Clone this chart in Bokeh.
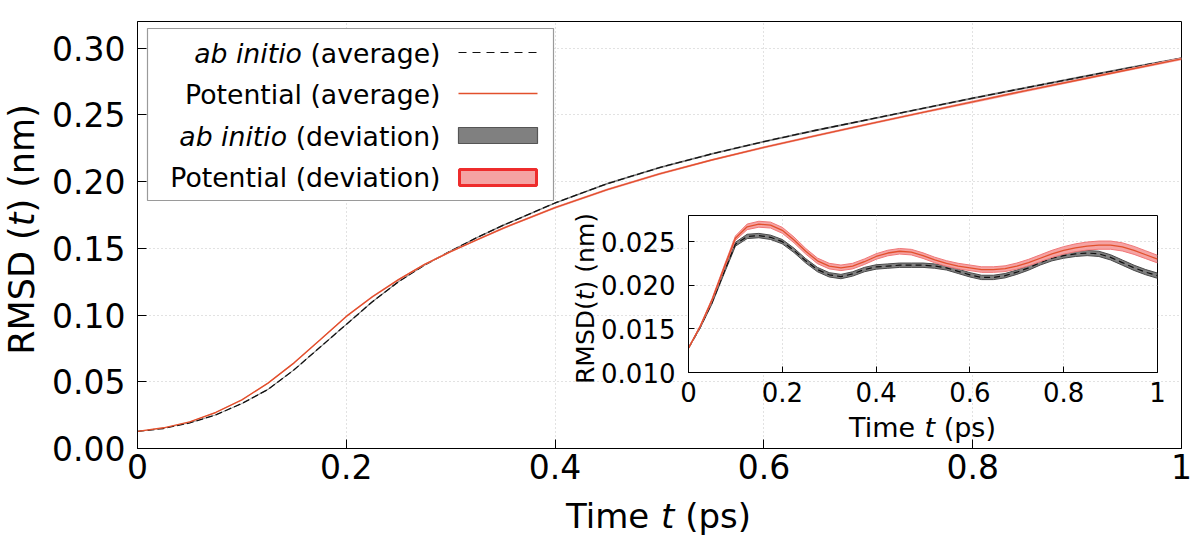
from bokeh.plotting import figure
from bokeh.models import FixedTicker, PrintfTickFormatter, Label, GridBox
from bokeh.embed import file_html
from bokeh.resources import INLINE

FONT = "DejaVu Sans"

# ---------------- data ----------------
# long-time RMSD (nm) versus time (ps)
t_main = [0.0, 0.025, 0.05, 0.075, 0.1, 0.125, 0.15, 0.175, 0.2, 0.225, 0.25, 0.275,
          0.3, 0.325, 0.35, 0.4, 0.45, 0.5, 0.55, 0.6, 0.65, 0.7, 0.75, 0.8, 0.85, 0.9, 0.95, 1.0]
ai_main = [0.0128, 0.0150, 0.0192, 0.0252, 0.0337, 0.0443, 0.0590, 0.0760, 0.0930, 0.1100,
           0.1250, 0.1375, 0.1480, 0.1580, 0.1672, 0.1840, 0.1985, 0.2105, 0.2208, 0.2300,
           0.2385, 0.2465, 0.2545, 0.2625, 0.2702, 0.2778, 0.2852, 0.2925]
ai_main_dev = [0.0001, 0.0001, 0.0002, 0.0002, 0.0003, 0.0004, 0.0004, 0.0005, 0.0005, 0.0005,
               0.0005, 0.0005, 0.0005, 0.0005, 0.0006, 0.0006, 0.0006, 0.0006, 0.0006, 0.0007,
               0.0007, 0.0007, 0.0007, 0.0007, 0.0008, 0.0008, 0.0008, 0.0008]
pot_main = [0.0128, 0.0155, 0.0200, 0.0270, 0.0365, 0.0490, 0.0642, 0.0815, 0.0990, 0.1137,
            0.1265, 0.1380, 0.1475, 0.1563, 0.1650, 0.1805, 0.1940, 0.2058, 0.2162, 0.2257,
            0.2345, 0.2431, 0.2515, 0.2598, 0.2680, 0.2760, 0.2840, 0.2920]
pot_main_dev = [0.0001, 0.0001, 0.0002, 0.0003, 0.0004, 0.0005, 0.0006, 0.0006, 0.0007, 0.0007,
                0.0007, 0.0007, 0.0007, 0.0007, 0.0008, 0.0008, 0.0008, 0.0008, 0.0008, 0.0009,
                0.0009, 0.0009, 0.0009, 0.0010, 0.0010, 0.0010, 0.0010, 0.0010]

# short-time RMSD (nm) for the inset
t_inset = [0.0, 0.025, 0.05, 0.075, 0.1, 0.125, 0.15, 0.175, 0.2, 0.225,
           0.25, 0.275, 0.3, 0.325, 0.35, 0.375, 0.4, 0.425, 0.45, 0.475,
           0.5, 0.525, 0.55, 0.575, 0.6, 0.625, 0.65, 0.675, 0.7, 0.725,
           0.75, 0.775, 0.8, 0.825, 0.85, 0.875, 0.9, 0.925, 0.95, 0.975, 1.0]
ai_inset = [0.0128, 0.0152, 0.0180, 0.0214, 0.0247, 0.0256, 0.0257, 0.0255, 0.0250, 0.0240,
            0.0228, 0.0218, 0.0212, 0.0210, 0.0213, 0.0218, 0.0221, 0.0222, 0.0223, 0.0223,
            0.0223, 0.0222, 0.0220, 0.0216, 0.0212, 0.0209, 0.0209, 0.0211, 0.0215, 0.0220,
            0.0226, 0.0231, 0.0234, 0.0236, 0.0237, 0.0236, 0.0232, 0.0226, 0.0220, 0.0215,
            0.0211]
ai_inset_dev = [0.00005, 0.0001, 0.00015, 0.0002, 0.00022, 0.00025, 0.00025, 0.00025, 0.00025, 0.00025,
                0.00025, 0.00025, 0.00025, 0.00025, 0.00025, 0.00025, 0.00025, 0.00025, 0.00025, 0.00025,
                0.00025, 0.00025, 0.00025, 0.00025, 0.00025, 0.00025, 0.00025, 0.00025, 0.00025, 0.00027,
                0.00028, 0.0003, 0.0003, 0.0003, 0.0003, 0.0003, 0.0003, 0.0003, 0.0003, 0.0003,
                0.0003]
pot_inset = [0.0128, 0.0153, 0.0183, 0.0219, 0.0254, 0.0267, 0.0270, 0.0269, 0.0263, 0.0252,
             0.0239, 0.0228, 0.0222, 0.0220, 0.0222, 0.0227, 0.0233, 0.0237, 0.0239, 0.0238,
             0.0234, 0.0229, 0.0225, 0.0222, 0.0220, 0.0218, 0.0218, 0.0219, 0.0222, 0.0226,
             0.0231, 0.0236, 0.0240, 0.0243, 0.0245, 0.0246, 0.0246, 0.0244, 0.0240, 0.0235,
             0.0230]
pot_inset_dev = [0.00005, 0.0001, 0.00015, 0.0002, 0.00025, 0.00032, 0.00034, 0.00034, 0.00034, 0.00033,
                 0.00032, 0.00032, 0.00032, 0.00032, 0.00032, 0.00032, 0.00032, 0.00032, 0.00032, 0.00032,
                 0.00032, 0.00032, 0.00032, 0.00032, 0.00032, 0.00032, 0.00032, 0.00033, 0.00035, 0.00037,
                 0.00039, 0.00041, 0.00043, 0.00045, 0.00046, 0.00047, 0.00047, 0.00047, 0.00046, 0.00045,
                 0.00044]

main_xticks = [0.0, 0.2, 0.4, 0.6, 0.8, 1.0]
main_yticks = [0.0, 0.05, 0.10, 0.15, 0.20, 0.25, 0.30]
inset_xticks = [0.0, 0.2, 0.4, 0.6, 0.8, 1.0]
inset_yticks = [0.010, 0.015, 0.020, 0.025]

legend_rows = [("ab initio", "(average)"), ("", "Potential (average)"),
               ("ab initio", "(deviation)"), ("", "Potential (deviation)")]

# ---------------- styling ----------------
POT = "#e2502c"
POT_FILL = "#f5a3a3"
POT_EDGE = "#f07878"
POT_BORDER = "#ee2c2c"
AI = "#111111"
AI_FILL = "#808080"
AI_EDGE = "#4a4a4a"
GRID = "#c4c4c4"

# DejaVu Sans advance widths (em) used to lay out mixed upright/italic text
EM = {" ": 0.318, "(": 0.390, ")": 0.390, ".": 0.318, "R": 0.695, "M": 0.863, "S": 0.635,
      "D": 0.770, "P": 0.603, "T": 0.611, "a": 0.613, "b": 0.635, "d": 0.635, "e": 0.615,
      "g": 0.635, "i": 0.278, "l": 0.278, "m": 0.974, "n": 0.634, "o": 0.612, "p": 0.635,
      "r": 0.411, "s": 0.521, "t": 0.392, "v": 0.592}
BASE_FIX = 0.36  # Label baseline correction, in em


def text_width(s, size):
    return sum(EM.get(c, 0.6) for c in s) * size


def sub(vals, devs, sign):
    return [v + sign * d for v, d in zip(vals, devs)]


def style_axes(fig, xticks, yticks, xfmt, yfmt, size, xstand, ystand):
    fig.xaxis.ticker = FixedTicker(ticks=xticks)
    fig.yaxis.ticker = FixedTicker(ticks=yticks)
    fig.xaxis.formatter = PrintfTickFormatter(format=xfmt)
    fig.yaxis.formatter = PrintfTickFormatter(format=yfmt)
    for ax in (fig.xaxis[0], fig.yaxis[0]):
        ax.major_label_text_font = FONT
        ax.major_label_text_font_size = size
        ax.major_label_text_color = "black"
        ax.axis_line_color = "black"
        ax.major_tick_line_color = "black"
        ax.major_tick_in = 9
        ax.major_tick_out = 0
        ax.minor_tick_line_color = None
    fig.xaxis.major_label_standoff = xstand
    fig.yaxis.major_label_standoff = ystand
    for g in (fig.xgrid[0], fig.ygrid[0]):
        g.grid_line_color = GRID
        g.grid_line_dash = "1 3"
        g.grid_line_width = 1
    fig.outline_line_color = "black"
    fig.outline_line_alpha = 1.0


# ---------------- main panel ----------------
p = figure(width=1200, height=540, x_range=(0, 1), y_range=(0, 0.32),
           output_backend="svg", toolbar_location=None,
           min_border_left=137, min_border_right=19, min_border_top=21, min_border_bottom=92)
style_axes(p, main_xticks, main_yticks, "%g", "%.2f", "33px", 5, 12)

p.varea(x=t_main, y1=sub(ai_main, ai_main_dev, -1), y2=sub(ai_main, ai_main_dev, 1),
        fill_color=AI_FILL)
p.line(t_main, ai_main, line_color=AI, line_width=1.3, line_dash="7 3")
p.varea(x=t_main, y1=sub(pot_main, pot_main_dev, -1), y2=sub(pot_main, pot_main_dev, 1),
        fill_color=POT_FILL)
p.line(t_main, pot_main, line_color=POT, line_width=1.4)

# ---------------- inset ----------------
IX0, IY0 = 560, 205            # inset canvas origin on the page
q = figure(width=615, height=240, x_range=(0, 1), y_range=(0.010, 0.028),
           output_backend="svg", toolbar_location=None,
           min_border_left=128, min_border_right=18, min_border_top=10, min_border_bottom=73)
q.border_fill_alpha = 0.0
q.background_fill_color = "white"
style_axes(q, inset_xticks, inset_yticks, "%g", "%.3f", "26px", 9, 13)
q.xaxis.major_tick_in = 6
q.yaxis.major_tick_in = 6

q.varea(x=t_inset, y1=sub(ai_inset, ai_inset_dev, -1), y2=sub(ai_inset, ai_inset_dev, 1),
        fill_color=AI_FILL)
q.line(t_inset, sub(ai_inset, ai_inset_dev, -1), line_color=AI_EDGE, line_width=1)
q.line(t_inset, sub(ai_inset, ai_inset_dev, 1), line_color=AI_EDGE, line_width=1)
q.line(t_inset, ai_inset, line_color=AI, line_width=1.2, line_dash="6 4")
q.varea(x=t_inset, y1=sub(pot_inset, pot_inset_dev, -1), y2=sub(pot_inset, pot_inset_dev, 1),
        fill_color=POT_FILL)
q.line(t_inset, sub(pot_inset, pot_inset_dev, -1), line_color=POT_EDGE, line_width=1)
q.line(t_inset, sub(pot_inset, pot_inset_dev, 1), line_color=POT_EDGE, line_width=1)
q.line(t_inset, pot_inset, line_color=POT, line_width=1.3)

# ---------------- text & legend layer (page pixel coordinates) ----------------
o = figure(width=1200, height=540, x_range=(0, 1200), y_range=(540, 0),
           x_axis_type=None, y_axis_type=None, output_backend="svg", toolbar_location=None,
           min_border=0, min_border_left=0, min_border_right=0, min_border_top=0,
           min_border_bottom=0)
o.outline_line_color = None
o.background_fill_alpha = 0.0
o.border_fill_alpha = 0.0
o.grid.visible = False


def olabel(x, y, text, size, italic=False, align="left", angle=0.0):
    o.add_layout(Label(x=x, y=y, text=text, text_font=FONT, text_font_size=f"{size}px",
                       text_font_style="italic" if italic else "normal",
                       text_align=align, text_baseline="alphabetic",
                       text_color="black", angle=angle))


def pieces_h(cx, base, parts, size):
    """Horizontal mixed-style text centred at x=cx with its baseline at y=base."""
    total = sum(text_width(s, size) for s, _ in parts)
    x = cx - total / 2
    for s, it in parts:
        if s.strip():
            olabel(x, base - BASE_FIX * size, s, size, italic=it)
        x += text_width(s, size)


def pieces_v(base, cy, parts, size):
    """Vertical (bottom-to-top) mixed-style text centred at y=cy with its baseline at x=base."""
    total = sum(text_width(s, size) for s, _ in parts)
    y = cy + total / 2
    for s, it in parts:
        if s.strip():
            olabel(base - BASE_FIX * size, y, s, size, italic=it, angle=1.5707963267948966)
        y -= text_width(s, size)


TIME_PARTS = [("Time", False), (" ", False), ("t", True), (" ", False), ("(ps)", False)]
pieces_h(658, 528, TIME_PARTS, 34)
pieces_v(34, 229, [("RMSD (", False), ("t", True), (") (nm)", False)], 35)
pieces_h(922, 437, TIME_PARTS, 27)
pieces_v(594, 298, [("RMSD(", False), ("t", True), (") (nm)", False)], 25)

# legend
o.quad(left=147, right=553, top=28, bottom=200, fill_color="white",
       line_color="#9a9a9a", line_width=1.2)
LEG = 26.7
baselines = [62.5, 104, 145.5, 187]
for (ital, plain), base in zip(legend_rows, baselines):
    yb = base - BASE_FIX * LEG
    olabel(440, yb, plain, LEG, align="right")
    if ital:
        xr = 440 - text_width(plain, LEG) - text_width(" ", LEG)
        olabel(xr, yb, ital, LEG, italic=True, align="right")

o.line([458, 537], [52, 52], line_color=AI, line_width=1, line_dash="8 6")
o.line([458, 537], [93, 93], line_color=POT, line_width=1.3)
o.quad(left=458, right=537, top=127, bottom=143, fill_color=AI_FILL,
       line_color="#555555", line_width=1.2)
o.quad(left=459, right=536, top=169, bottom=185, fill_color=POT_FILL,
       line_color=POT_BORDER, line_width=3)

# Grid tracks: zero-width outer tracks keep the text layer's frame independent
# of the main panel's borders.
rows = ["0px", f"{IY0}px", "240px", f"{540 - IY0 - 240}px", "0px"]
cols = ["0px", f"{IX0}px", "615px", f"{1200 - IX0 - 615}px", "0px"]
layout = GridBox(children=[(p, 1, 1, 3, 3), (q, 2, 2, 1, 1), (o, 0, 0, 5, 5)],
                 rows=rows, cols=cols)

open("out.html", "w").write(file_html(layout, INLINE))
